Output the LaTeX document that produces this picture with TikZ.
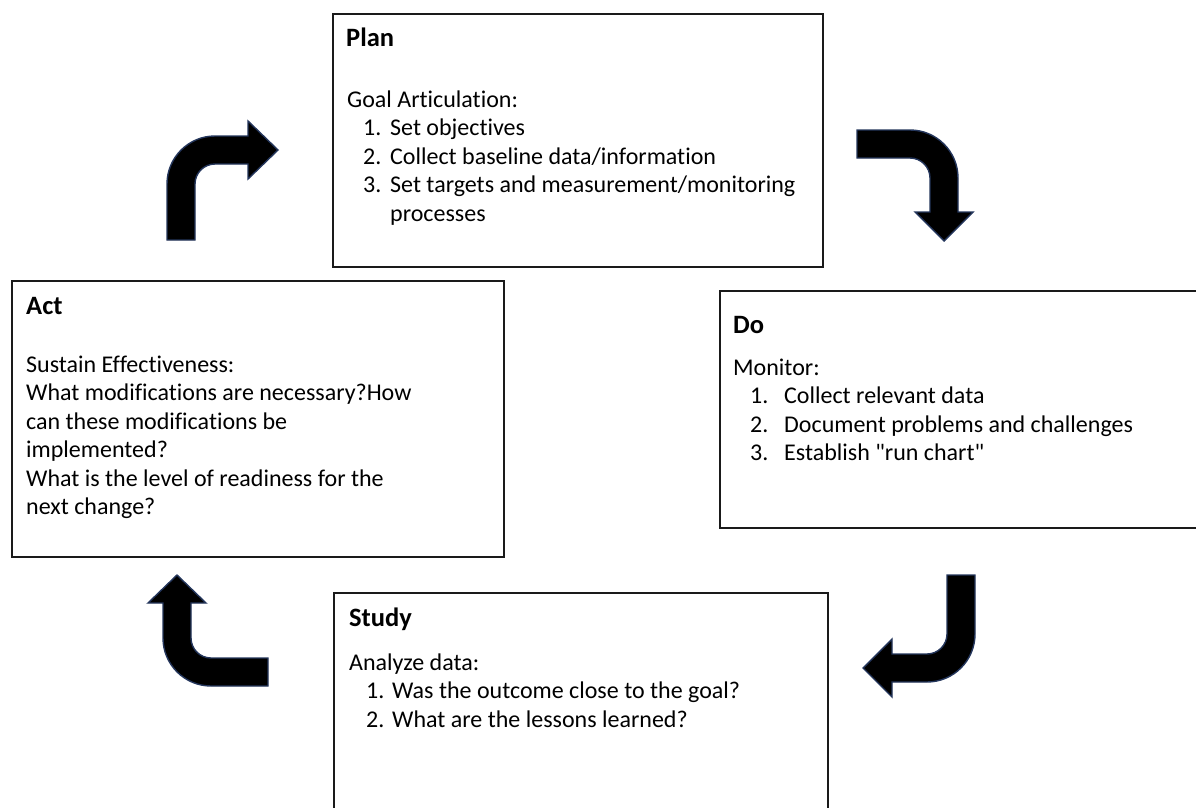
\documentclass[tikz,border=0pt]{standalone}
\usepackage{fontspec}
\setmainfont{Carlito}[Ligatures={TeXOff,NoCommon}]
\definecolor{arrowrim}{HTML}{24365C}
\definecolor{framecol}{HTML}{1A1A1A}
\begin{document}
\begin{tikzpicture}[x=1pt,y=-1pt,
  frame/.style={draw=framecol, line width=1.6pt, rectangle, inner sep=0pt, anchor=north west},
  bent/.style={fill=black, draw=arrowrim, line width=1.4pt, line join=miter},
  txt/.style={anchor=base west, inner sep=0pt, font=\fontsize{24}{28}\selectfont},
  head/.style={anchor=base west, inner sep=0pt, font=\fontsize{26.5}{30}\selectfont\bfseries}]

\useasboundingbox (0,0) rectangle (1196,808);
\fill[white] (0,0) rectangle (1196,808);
\clip (0,0) rectangle (1196,808);

% ---- the four stage boxes ----
\node[frame, minimum width=490pt, minimum height=253pt] (plan)  at (332,13)  {};
\node[frame, minimum width=492pt, minimum height=276pt] (act)   at (11,280)  {};
\node[frame, minimum width=500pt, minimum height=237pt] (do)    at (719,290) {};
\node[frame, minimum width=494pt, minimum height=250pt] (study) at (333,592) {};

% ---- Plan ----
\node[head] (plan-h) at (346,47)  {Plan};
\node[txt]  (plan-g) at (347,107) {Goal Articulation:};
\node[txt]  (plan-1) at (363,135.5) {\makebox[27pt][l]{1.}Set objectives};
\node[txt]  (plan-2) at (363,164) {\makebox[27pt][l]{2.}Collect baseline data/information};
\node[txt]  (plan-3) at (363,192.5) {\makebox[27pt][l]{3.}Set targets and measurement/monitoring};
\node[txt]  (plan-4) at (390,221) {processes};

% ---- Act ----
\node[head] (act-h) at (26,314)   {Act};
\node[txt]  (act-1) at (26,372)   {Sustain Effectiveness:};
\node[txt]  (act-2) at (26,400.5) {What modifications are necessary?How};
\node[txt]  (act-3) at (26,429)   {can these modifications be};
\node[txt]  (act-4) at (26,457.5) {implemented?};
\node[txt]  (act-5) at (26,486)   {What is the level of readiness for the};
\node[txt]  (act-6) at (26,514.5) {next change?};

% ---- Do ----
\node[head] (do-h) at (733,333) {Do};
\node[txt] (do-m) at (733,375) {Monitor:};
\node[txt] (do-1) at (750,403.5) {\makebox[34pt][l]{1.}Collect relevant data};
\node[txt] (do-2) at (750,432)   {\makebox[34pt][l]{2.}Document problems and challenges};
\node[txt] (do-3) at (750,460.5) {\makebox[34pt][l]{3.}Establish "run chart"};

% ---- Study ----
\node[head] (study-h) at (349,626) {Study};
\node[txt]  (study-a) at (349,670) {Analyze data:};
\node[txt]  (study-1) at (366,698.5) {\makebox[26pt][l]{1.}Was the outcome close to the goal?};
\node[txt]  (study-2) at (366,727)   {\makebox[26pt][l]{2.}What are the lessons learned?};

% ---- bent arrows between the stages ----
% Act -> Plan : up, then right
\draw[bent] (167,240) -- (167,184) .. controls (167,157.5) and (188.5,136) .. (215,136)
  -- (248,136) -- (248,121) -- (278,150) -- (248,179) -- (248,164) -- (215,164)
  .. controls (204,164) and (195,173) .. (195,184) -- (195,240) -- cycle;
% Plan -> Do : right, then down
\draw[bent] (857,130) -- (910,130) .. controls (936.5,130) and (958,151.5) .. (958,178)
  -- (958,212) -- (973,212) -- (944,241) -- (915,212) -- (930,212) -- (930,178)
  .. controls (930,167) and (921,158) .. (910,158) -- (857,158) -- cycle;
% Do -> Study : down, then left
\draw[bent] (975,575) -- (975,634) .. controls (975,660.5) and (953.5,682) .. (927,682)
  -- (892,682) -- (892,697) -- (863,668) -- (892,639) -- (892,654) -- (927,654)
  .. controls (938,654) and (947,645) .. (947,634) -- (947,575) -- cycle;
% Study -> Act : left, then up
\draw[bent] (268,686) -- (211,686) .. controls (184.5,686) and (163,664.5) .. (163,638)
  -- (163,603) -- (148,603) -- (177,575) -- (206,603) -- (191,603) -- (191,638)
  .. controls (191,649) and (200,658) .. (211,658) -- (268,658) -- cycle;
\end{tikzpicture}
\end{document}
